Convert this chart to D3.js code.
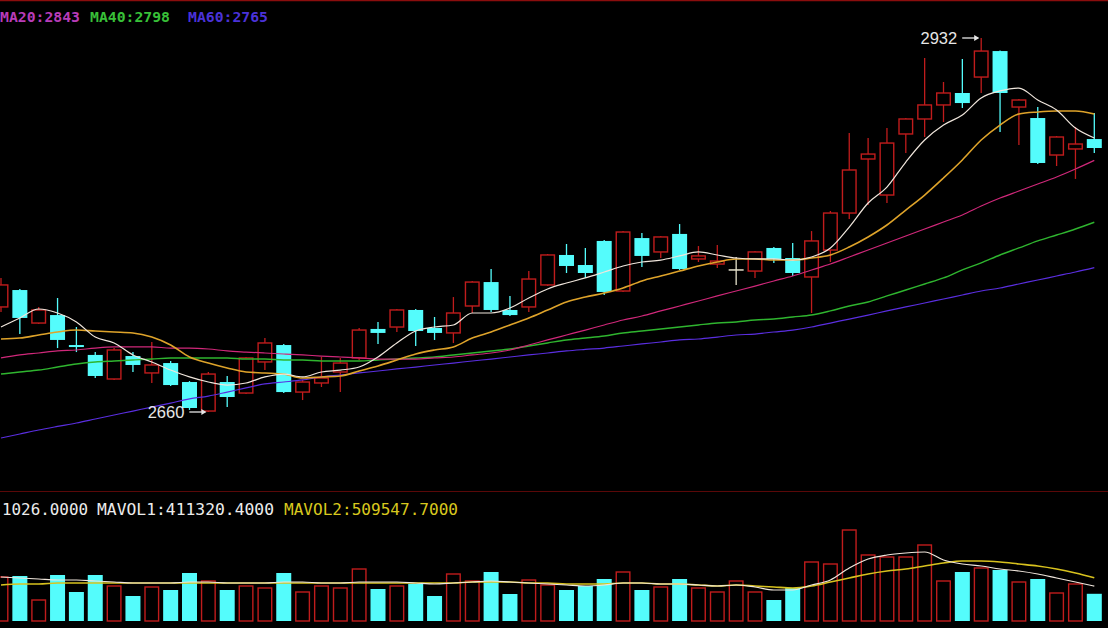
<!DOCTYPE html>
<html><head><meta charset="utf-8">
<script src="https://cdn.jsdelivr.net/npm/d3@7"></script>
<style>html,body{margin:0;padding:0;background:#000;overflow:hidden}</style>
</head><body><svg id="c" width="1108" height="628"></svg>
<script>
// ---- data ----
const open  = [2736.4,2748.7,2724.7,2730.5,2708.7,2701.5,2684.0,2700.7,2688.4,2695.6,
               2681.8,2660.7,2681.8,2673.8,2696.4,2708.7,2674.5,2681.1,2689.1,2699.3,
               2720.4,2721.8,2734.2,2721.1,2717.5,2737.1,2754.5,2734.2,2736.4,2752.4,
               2774.2,2766.9,2784.4,2748.0,2786.5,2776.4,2789.5,2771.3,2767.6,2763.3,
               2762.5,2779.3,2772.0,2758.2,2777.8,2804.7,2844.0,2817.8,2862.2,2873.1,
               2883.3,2892.0,2903.6,2922.5,2881.8,2873.8,2846.9,2851.3,2858.5];
const high  = [2757.5,2749.5,2736.4,2742.9,2721.8,2703.6,2706.5,2703.6,2710.9,2697.1,
               2682.5,2689.1,2686.2,2700.0,2713.8,2709.5,2683.3,2700.0,2699.3,2721.1,
               2725.5,2734.9,2734.9,2729.1,2743.6,2755.3,2764.0,2744.4,2762.5,2774.9,
               2782.2,2779.3,2785.1,2791.6,2790.2,2788.0,2796.7,2780.7,2781.5,2772.7,
               2777.1,2780.0,2782.9,2791.6,2806.2,2862.9,2859.3,2866.5,2873.8,2917.5,
               2900.0,2916.7,2932.0,2923.0,2887.6,2881.8,2860.7,2867.3,2877.5];
const low   = [2732.7,2716.7,2724.0,2706.5,2703.6,2684.7,2683.3,2689.1,2681.1,2678.9,
               2661.5,2660.0,2663.6,2673.1,2690.5,2673.8,2668.7,2678.2,2674.5,2697.8,
               2709.5,2718.2,2708.0,2712.4,2710.2,2732.0,2732.7,2729.8,2732.7,2751.6,
               2761.1,2757.5,2745.1,2747.3,2765.5,2772.0,2763.3,2769.1,2764.7,2752.4,
               2757.5,2768.4,2758.9,2732.0,2769.1,2800.4,2810.5,2812.0,2848.4,2860.0,
               2870.9,2881.1,2892.0,2863.6,2854.2,2840.4,2838.9,2829.5,2848.4];
const close = [2752.4,2728.4,2734.2,2712.4,2707.3,2686.2,2705.1,2694.2,2694.2,2679.6,
               2662.9,2687.6,2670.9,2699.3,2710.2,2674.5,2681.8,2684.7,2695.6,2719.6,
               2717.5,2734.2,2718.9,2717.5,2732.0,2754.5,2734.2,2730.5,2756.7,2774.2,
               2766.2,2761.1,2747.3,2790.9,2773.5,2787.3,2764.0,2773.5,2769.8,2763.3,
               2776.4,2771.3,2761.1,2784.4,2804.7,2836.0,2847.6,2855.6,2873.1,2883.3,
               2892.0,2884.7,2922.5,2892.0,2886.9,2841.1,2860.0,2854.9,2852.0];

const ma5  = [2721.8,2728.4,2734.9,2732.0,2725.5,2714.5,2710.2,2701.5,2696.4,2690.5,
              2685.5,2681.8,2679.6,2681.1,2685.5,2687.6,2685.5,2689.1,2690.5,2692.7,
              2700.0,2710.2,2718.9,2721.8,2723.3,2732.0,2732.0,2735.6,2742.9,2749.5,
              2753.8,2757.5,2761.8,2766.2,2769.1,2770.5,2773.5,2776.4,2774.2,2772.0,
              2771.3,2771.3,2770.5,2772.7,2779.3,2794.5,2812.0,2823.6,2841.8,2857.8,
              2868.7,2876.0,2888.4,2893.5,2895.6,2886.9,2879.6,2866.5,2859.3];
const ma10 = [2713.1,2713.8,2716.0,2718.2,2719.6,2718.9,2718.2,2717.5,2714.5,2708.7,
              2700.0,2695.6,2692.0,2689.1,2688.4,2687.6,2684.7,2685.5,2686.2,2689.8,
              2693.5,2697.8,2702.2,2705.1,2707.3,2713.8,2718.2,2723.3,2728.4,2734.2,
              2740.0,2743.6,2746.5,2750.2,2755.3,2758.9,2762.5,2766.2,2769.1,2771.3,
              2771.3,2770.5,2770.5,2772.0,2774.2,2780.0,2787.3,2796.0,2806.9,2817.8,
              2830.2,2843.3,2857.8,2868.7,2876.7,2878.2,2878.9,2878.9,2876.7];
const ma20 = [2699.3,2701.5,2702.9,2704.4,2705.1,2706.5,2707.3,2707.3,2707.3,2706.5,
              2706.5,2705.8,2704.4,2703.6,2702.9,2702.2,2701.5,2700.7,2700.0,2699.3,
              2698.5,2698.5,2698.5,2699.3,2700.0,2701.5,2702.9,2705.1,2708.7,2712.4,
              2716.0,2719.6,2723.3,2726.9,2729.8,2733.5,2737.1,2740.7,2744.4,2748.0,
              2751.6,2755.3,2758.9,2763.3,2767.6,2772.7,2777.8,2782.9,2788.0,2793.1,
              2798.2,2803.3,2809.8,2815.6,2820.7,2825.8,2830.9,2836.7,2843.0];
const ma40 = [2687.6,2689.1,2690.5,2692.7,2694.9,2696.4,2697.1,2697.8,2698.5,2699.3,
              2699.3,2699.3,2699.3,2698.5,2698.5,2697.8,2697.8,2697.1,2697.1,2697.1,
              2697.8,2698.5,2699.3,2700.0,2701.5,2702.9,2704.4,2705.8,2708.0,2710.2,
              2712.4,2713.8,2715.3,2717.5,2718.9,2720.4,2721.8,2723.3,2724.7,2725.5,
              2726.9,2727.6,2729.1,2730.5,2733.5,2737.1,2740.0,2744.4,2748.7,2753.1,
              2757.5,2763.3,2768.4,2774.2,2779.3,2784.4,2788.7,2793.1,2798.0];
const ma60 = [2641.1,2644.0,2646.9,2649.5,2652.0,2654.9,2657.8,2660.7,2663.6,2666.5,
              2669.5,2671.6,2674.5,2677.5,2680.4,2681.8,2683.3,2685.5,2686.9,2688.4,
              2689.8,2691.3,2692.7,2694.2,2695.6,2697.1,2698.5,2700.0,2701.5,2702.9,
              2704.4,2705.5,2706.5,2708.0,2709.5,2710.9,2712.4,2713.1,2714.5,2716.0,
              2716.7,2718.2,2719.6,2721.8,2724.7,2727.6,2730.5,2733.5,2736.4,2739.3,
              2742.2,2745.1,2748.0,2750.2,2753.1,2756.0,2758.9,2761.8,2765.0];

const volume = [519200,531000,247800,542800,342200,542800,413000,295000,401200,365800,
                566400,472000,365800,413000,389400,566400,342200,413000,389400,613600,
                377600,413000,436600,295000,554600,472000,578200,318600,483800,424800,
                365800,413000,495600,578200,365800,401200,495600,389400,342200,472000,
                342200,247800,389400,696200,672600,1073800,778800,755200,755200,896800,
                472000,578200,625400,601800,460200,495600,330400,436600,321026];
const mavol1 = [519200,507400,495600,483800,483800,472000,460200,448400,448400,448400,
                460200,460200,448400,448400,448400,460200,460200,448400,448400,460200,
                460200,460200,448400,436600,448400,460200,472000,460200,448400,436600,
                424800,413000,424800,448400,448400,436600,436600,424800,413000,424800,
                401200,365800,365800,424800,483800,625400,731600,778800,802400,814200,
                719800,672600,649000,613600,590000,554600,507400,460200,411320];
const mavol2 = [424800,436600,436600,448400,448400,448400,448400,448400,448400,448400,
                448400,448400,448400,448400,448400,448400,448400,448400,448400,448400,
                448400,448400,448400,448400,448400,460200,460200,460200,448400,448400,
                436600,436600,436600,448400,448400,436600,436600,424800,413000,424800,
                413000,401200,389400,413000,460200,507400,554600,590000,613600,649000,
                684400,708000,708000,696200,672600,649000,613600,566400,509548];

const maLabels  = ["MA20:2843", "MA40:2798", "MA60:2765"];
const volLabels = ["1026.0000", "MAVOL1:411320.4000", "MAVOL2:509547.7000"];
const extremes  = [{i:52, v:2932, label:"2932"}, {i:11, v:2660, label:"2660"}];

// ---- drawing ----
const W = 1108, H = 628;
const UP = "#c01c1c", DOWN = "#54fcfc", DOJI = "#e6e2cc";
const svg = d3.select("#c");
svg.append("rect").attr("width", W).attr("height", H).attr("fill", "#000");

const n = open.length;
const idx = d3.range(n);
const x = d3.scaleLinear().domain([0, n - 1]).range([1, 1094.3]);
const y = d3.scaleLinear().domain([2660, 2932]).range([412, 38]);
const yv = d3.scaleLinear().domain([0, 1e6]).range([621, 536.25]);
const bw = 15;

const defs = svg.append("defs");
defs.append("clipPath").attr("id", "cp1").append("rect").attr("x", 0).attr("y", 2).attr("width", W).attr("height", 488);
defs.append("clipPath").attr("id", "cp2").append("rect").attr("x", 0).attr("y", 493).attr("width", W).attr("height", 135);

// frame lines
svg.append("line").attr("x1", 0).attr("x2", W).attr("y1", 0.5).attr("y2", 0.5).attr("stroke", "#8a0d0d").attr("stroke-width", 1.5);
svg.append("line").attr("x1", 0).attr("x2", W).attr("y1", 491.5).attr("y2", 491.5).attr("stroke", "#5a0808").attr("stroke-width", 1);

const main = svg.append("g").attr("clip-path", "url(#cp1)");
const kind = i => close[i] > open[i] ? "up" : (close[i] < open[i] ? "down" : "doji");
const col = i => ({up: UP, down: DOWN, doji: DOJI})[kind(i)];

// candles
const cg = main.append("g");
idx.forEach(i => {
  const cx = x(i), k = kind(i), c = col(i);
  const top = y(Math.max(open[i], close[i])), bot = y(Math.min(open[i], close[i]));
  if (k === "up") {
    cg.append("line").attr("x1", cx).attr("x2", cx).attr("y1", y(high[i])).attr("y2", top).attr("stroke", c).attr("stroke-width", 1.3);
    cg.append("line").attr("x1", cx).attr("x2", cx).attr("y1", bot).attr("y2", y(low[i])).attr("stroke", c).attr("stroke-width", 1.3);
    cg.append("rect").attr("x", cx - bw / 2 + 0.7).attr("y", top).attr("width", bw - 1.4).attr("height", Math.max(1, bot - top))
      .attr("fill", "#000").attr("stroke", c).attr("stroke-width", 1.4);
  } else if (k === "down") {
    cg.append("line").attr("x1", cx).attr("x2", cx).attr("y1", y(high[i])).attr("y2", y(low[i])).attr("stroke", c).attr("stroke-width", 1.3);
    cg.append("rect").attr("x", cx - bw / 2).attr("y", top).attr("width", bw).attr("height", Math.max(2, bot - top)).attr("fill", c);
  } else {
    cg.append("line").attr("x1", cx).attr("x2", cx).attr("y1", y(high[i])).attr("y2", y(low[i])).attr("stroke", c).attr("stroke-width", 1.3);
    cg.append("line").attr("x1", cx - bw / 2).attr("x2", cx + bw / 2).attr("y1", top).attr("y2", top).attr("stroke", c).attr("stroke-width", 1.5);
  }
});

// moving averages
const line = d3.line().x((d, i) => x(i)).y(d => y(d)).curve(d3.curveMonotoneX);
const maDefs = [
  {data: ma60, color: "#5a2ee0", w: 1.2},
  {data: ma40, color: "#2fb52f", w: 1.4},
  {data: ma20, color: "#d0287a", w: 1.2},
  {data: ma10, color: "#dea32a", w: 1.6},
  {data: ma5,  color: "#f0e6dc", w: 1.2}
];
maDefs.forEach(m => main.append("path").attr("d", line(m.data)).attr("fill", "none")
  .attr("stroke", m.color).attr("stroke-width", m.w));

// extremes annotations
extremes.forEach(e => {
  const ex = x(e.i), ey = y(e.v);
  const g = main.append("g").attr("fill", "#e6e6e6").attr("stroke", "#e6e6e6");
  g.append("text").attr("x", ex - 24).attr("y", ey + 6).attr("text-anchor", "end")
    .attr("font-family", "Liberation Sans, Arial, sans-serif").attr("font-size", 16.5).attr("stroke", "none").text(e.label);
  g.append("line").attr("x1", ex - 19).attr("x2", ex - 3).attr("y1", ey).attr("y2", ey).attr("stroke-width", 1.3);
  g.append("path").attr("d", `M${ex - 2},${ey} l-5,-3 l0,6 z`).attr("stroke", "none");
});

// MA header
const hdrColors = ["#b83cb8", "#38c038", "#4a32d8"];
const hdrX = [0, 90, 188];
maLabels.forEach((t, k) => svg.append("text").attr("x", hdrX[k]).attr("y", 22)
  .attr("font-family", "DejaVu Sans Mono, monospace").attr("font-size", 14.5).attr("font-weight", "bold")
  .attr("fill", hdrColors[k]).attr("textLength", 80).attr("lengthAdjust", "spacingAndGlyphs").text(t));

// volume panel
const vol = svg.append("g").attr("clip-path", "url(#cp2)");
idx.forEach(i => {
  const cx = x(i), c = kind(i) === "down" ? DOWN : UP;
  const top = yv(volume[i]), bot = yv(0);
  if (kind(i) === "down") {
    vol.append("rect").attr("x", cx - bw / 2).attr("y", top).attr("width", bw).attr("height", bot - top).attr("fill", c);
  } else {
    vol.append("rect").attr("x", cx - bw / 2 + 0.7).attr("y", top).attr("width", bw - 1.4).attr("height", bot - top)
      .attr("fill", "#000").attr("stroke", c).attr("stroke-width", 1.4);
  }
});
const vline = d3.line().x((d, i) => x(i)).y(d => yv(d)).curve(d3.curveMonotoneX);
vol.append("path").attr("d", vline(mavol2)).attr("fill", "none").attr("stroke", "#d8c21e").attr("stroke-width", 1.6);
vol.append("path").attr("d", vline(mavol1)).attr("fill", "none").attr("stroke", "#f0e6dc").attr("stroke-width", 1.2);

const vX = [2, 97, 284], vW = [86, 177, 174], vC = ["#ececec", "#ececec", "#d8c81e"];
volLabels.forEach((t, k) => svg.append("text").attr("x", vX[k]).attr("y", 515)
  .attr("font-family", "DejaVu Sans Mono, monospace").attr("font-size", 15.5)
  .attr("fill", vC[k]).attr("textLength", vW[k]).attr("lengthAdjust", "spacingAndGlyphs").text(t));
</script></body></html>
